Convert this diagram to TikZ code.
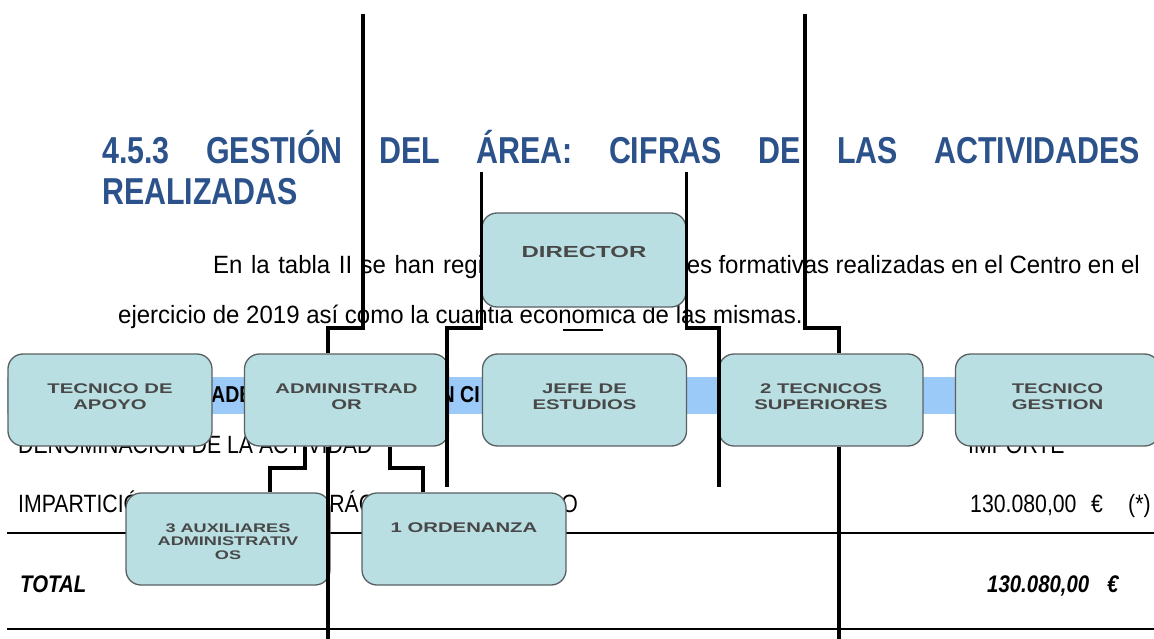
\documentclass[tikz,border=0pt]{standalone}
\usepackage{fontspec}
\setmainfont{Liberation Sans}
\newfontfamily\titlef[FakeStretch=0.81]{Liberation Sans}
\newfontfamily\bodyf[FakeStretch=0.96]{Liberation Sans}
\newfontfamily\tabf[FakeStretch=0.85]{Liberation Sans}
\newfontfamily\boxf[FakeStretch=1.45]{Liberation Sans}
\newfontfamily\dirf[FakeStretch=1.5]{Liberation Sans}
\definecolor{titleblue}{RGB}{44,82,140}
\definecolor{bandblue}{RGB}{155,201,248}
\definecolor{boxfill}{RGB}{185,223,227}
\definecolor{boxline}{RGB}{90,96,98}
\definecolor{boxtext}{RGB}{72,72,72}
\tikzset{
  orgbox/.style={draw=boxline, line width=1.3pt, fill=boxfill, rounded corners=15pt,
    minimum width=204pt, minimum height=92pt, inner sep=0pt},
  boxlabel/.style={anchor=north, inner sep=0pt, align=center, text=boxtext,
    font=\boxf\bfseries\fontsize{14}{16}\selectfont},
  conn/.style={line width=3.6pt, black},
  doc/.style={inner sep=0pt, anchor=base west},
  docr/.style={inner sep=0pt, anchor=base east},
  titletxt/.style={doc, text=titleblue, font=\titlef\bfseries\fontsize{37.5}{40}\selectfont},
  bodytxt/.style={font=\bodyf\fontsize{25}{28}\selectfont},
  tabtxt/.style={font=\tabf\fontsize{25}{28}\selectfont},
  tabbold/.style={font=\tabf\bfseries\fontsize{23}{26}\selectfont},
  tabbi/.style={font=\tabf\bfseries\itshape\fontsize{24}{27}\selectfont},
  rule/.style={line width=2.6pt, black}
}
\begin{document}
\begin{tikzpicture}[x=1pt,y=-1pt]
\clip (0,0) rectangle (1154,639);
\fill[white] (0,0) rectangle (1154,639);

% ---------- document text ----------
\node[titletxt] (t1) at (102,164) {\makebox[1038pt][s]{4.5.3 GESTIÓN DEL ÁREA: CIFRAS DE LAS ACTIVIDADES}};
\node[titletxt] (t2) at (102,205) {REALIZADAS};

\node[doc, bodytxt] (p1a) at (213,273) {\makebox[282pt][s]{En la tabla II se han regis}};
\node[docr, bodytxt] (p1b) at (1140,273) {\makebox[453pt][s]{es formativas realizadas en el Centro en el}};
\node[doc, bodytxt] (p2) at (118,323) {ejercicio de 2019 así como la cuantia economica de las mismas.};

% ---------- table ----------
\fill[bandblue] (7,377) rectangle (1154,414);
\node[doc, tabbold] (h1) at (211,402) {ADE};
\node[docr, tabbold] (h2) at (480,402) {N CI};

\node[doc, tabtxt] (r1a) at (18,453) {DENOMINACIÓN DE LA ACTIVIDAD};
\node[doc, tabtxt] (r1b) at (968,453) {IMPORTE};

\node[doc, tabtxt] (r2a) at (18,512) {IMPARTICIÓN};
\node[doc, tabtxt] (r2b) at (315,512) {ARÁC};
\node[docr, tabtxt] (r2c) at (578,512) {CO};
\node[doc, tabtxt] (r2d) at (970,512) {130.080,00};
\node[doc, tabtxt] (r2e) at (1091,512) {€};
\node[doc, tabtxt] (r2f) at (1128,512) {(*)};

\draw[rule] (7,533) -- (1154,533);

\node[doc, tabbi] (r3a) at (20,592) {TOTAL};
\node[doc, tabbi] (r3b) at (987,592) {130.080,00};
\node[doc, tabbi] (r3c) at (1107,592) {€};

\draw[rule] (7,629) -- (1154,629);

% ---------- org chart boxes ----------
\node[orgbox, minimum height=94pt] (dir) at (584,260) {};
\node[orgbox] (tda) at (110,400) {};
\node[orgbox] (adm) at (346.5,400) {};
\node[orgbox] (jefe) at (584.5,400) {};
\node[orgbox] (tec2) at (821,400) {};
\node[orgbox] (tges) at (1057.5,400) {};
\node[orgbox] (aux) at (228,539) {};
\node[orgbox] (ord) at (464,539) {};

\node[boxlabel, font=\dirf\bfseries\fontsize{16}{18}\selectfont] (dirt) at (584,246) {DIRECTOR};
\node[boxlabel] (tdat) at (110,384) {TECNICO DE\\APOYO};
\node[boxlabel] (admt) at (346.5,384) {ADMINISTRAD\\OR};
\node[boxlabel] (jefet) at (584.5,384) {JEFE DE\\ESTUDIOS};
\node[boxlabel] (tec2t) at (821,384) {2 TECNICOS\\SUPERIORES};
\node[boxlabel] (tgest) at (1057.5,384) {TECNICO\\GESTION};
\node[boxlabel, font=\boxf\bfseries\fontsize{12.5}{13.5}\selectfont] (auxt) at (228,523.5) {3 AUXILIARES\\ADMINISTRATIV\\OS};
\node[boxlabel] (ordt) at (464,523) {1 ORDENANZA};

% ---------- connectors ----------
\coordinate (topL) at (363,14);
\coordinate (jL) at (328,328);
\coordinate (botL) at (328,639);
\coordinate (jA) at (447,328);
\coordinate (endA) at (447,487);
\coordinate (jB) at (719,328);
\coordinate (endB) at (719,487);
\coordinate (topR) at (805,14);
\coordinate (jR) at (839,328);
\coordinate (botR) at (839,639);
\coordinate (sL) at (270,468);
\coordinate (sR) at (423,468);
\coordinate (u1) at (563,330);
\coordinate (u2) at (603,330);

\draw[conn] (topL) |- (jL) -- (jL |- adm.north);
\draw[conn] (jL |- adm.south) -- (botL);
\draw[conn] ([yshift=40pt]dir.north west) |- (jA) -- (endA);
\draw[conn] ([yshift=40pt]dir.north east) |- (jB) -- (endB);
\draw[conn] (topR) |- (jR) -- (jR |- tec2.north);
\draw[conn] (jR |- tec2.south) -- (botR);
\draw[conn] ([xshift=-41.5pt]adm.south) |- (sL) -- (sL |- aux.north);
\draw[conn] ([xshift=43.5pt]adm.south) |- (sR) -- (sR |- ord.north);
\draw[line width=2pt] (u1) -- (u2);
\end{tikzpicture}
\end{document}
